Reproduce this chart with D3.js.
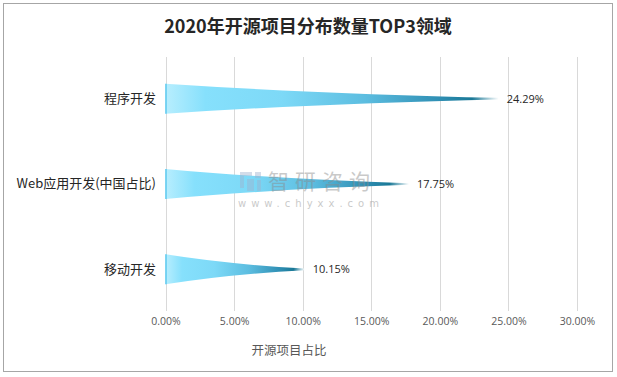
<!DOCTYPE html>
<html><head><meta charset="utf-8">
<script src="https://cdn.jsdelivr.net/npm/d3@7"></script>
<style>body{margin:0;background:#fff;}svg{display:block;font-family:"Noto Sans CJK SC","Noto Sans",sans-serif;}</style>
</head><body>
<svg id="c" width="617" height="377"></svg>
<script>
const categories = ["程序开发", "Web应用开发(中国占比)", "移动开发"];
const values = [24.29, 17.75, 10.15];
const ticks = [0, 5, 10, 15, 20, 25, 30];
const title = "2020年开源项目分布数量TOP3领域";
const axisTitle = "开源项目占比";

const svg = d3.select("#c");
svg.append("rect").attr("x", 3.5).attr("y", 3.5).attr("width", 609).attr("height", 368)
  .attr("fill", "#fff").attr("stroke", "#a6a6a6").attr("stroke-width", 1);

svg.append("text").attr("x", 308).attr("y", 33).attr("text-anchor", "middle")
  .attr("font-size", 18).attr("font-weight", "bold").attr("fill", "#262626").text(title);

const x = d3.scaleLinear().domain([0, 30]).range([165.5, 577]);
const y = d3.scaleBand().domain(categories).range([56, 312]);

// gridlines
svg.append("g").selectAll("line").data(ticks).join("line")
  .attr("x1", d => Math.round(x(d)) + 0.5).attr("x2", d => Math.round(x(d)) + 0.5)
  .attr("y1", 57).attr("y2", 311).attr("stroke", "#d9d9d9").attr("stroke-width", 1);

// x axis labels
const xAxis = d3.axisBottom(x).tickValues(ticks).tickSize(0).tickPadding(0)
  .tickFormat(d => d.toFixed(2) + "%");
const gx = svg.append("g").attr("transform", "translate(0,318)").call(xAxis);
gx.select(".domain").remove();
gx.selectAll("text").attr("font-size", 10.5).attr("fill", "#595959")
  .attr("font-family", "'Open Sans','Noto Sans',sans-serif");

svg.append("text").attr("x", 289).attr("y", 355).attr("text-anchor", "middle")
  .attr("font-size", 12.5).attr("fill", "#595959").text(axisTitle);

// y axis labels
const yAxis = d3.axisLeft(y).tickSize(0).tickPadding(0);
const gy = svg.append("g").attr("transform", "translate(156,0)").call(yAxis);
gy.select(".domain").remove();
gy.selectAll("text").attr("font-size", 13).attr("fill", "#262626")
  .attr("font-family", "'Noto Sans CJK SC','Noto Sans',sans-serif");

// gradient
const defs = svg.append("defs");
const grad = defs.append("linearGradient").attr("id", "g1").attr("x1", 0).attr("x2", 1).attr("y1", 0).attr("y2", 0);
[[0, "#b8eefe"], [0.12, "#86e0fc"], [0.35, "#7dd9f7"], [0.6, "#5cbde0"], [0.82, "#2f8fb4"], [0.92, "#1a7896"], [1, "#ffffff"]]
  .forEach(([o, c]) => grad.append("stop").attr("offset", o).attr("stop-color", c));

const data = categories.map((c, i) => ({ c, v: values[i] }));
const hh = 15;
svg.append("g").selectAll("path").data(data).join("path")
  .attr("d", d => {
    const cy = y(d.c) + y.bandwidth() / 2;
    const x0 = x(0), x1 = x(d.v);
    const mx = x0 + (x1 - x0) * 0.45;
    return `M${x0},${cy - hh} Q${mx},${cy - 5} ${x1},${cy - 0.8} L${x1},${cy + 0.8} Q${mx},${cy + 5} ${x0},${cy + hh} Z`;
  })
  .attr("fill", "url(#g1)");
svg.append("g").selectAll("line").data(data).join("line")
  .attr("x1", x(0) + 0.5).attr("x2", x(0) + 0.5)
  .attr("y1", d => y(d.c) + y.bandwidth() / 2 - hh).attr("y2", d => y(d.c) + y.bandwidth() / 2 + hh)
  .attr("stroke", "#5ec9ee").attr("stroke-width", 1.5);

// value labels
svg.append("g").selectAll("text").data(data).join("text")
  .attr("x", d => x(d.v) + 8).attr("y", d => y(d.c) + y.bandwidth() / 2 + 4)
  .attr("font-size", 11).attr("fill", "#262626")
  .attr("font-family", "'Open Sans','Noto Sans',sans-serif")
  .text(d => d.v.toFixed(2) + "%");

// watermark
const wm = svg.append("g").attr("opacity", 0.45);
wm.append("path").attr("d", "M240,172 h12 v4 h-8 v12 h-4 Z").attr("fill", "#9fb3cf");
wm.append("rect").attr("x", 247).attr("y", 179).attr("width", 7).attr("height", 12).attr("fill", "#9fb3cf");
wm.append("rect").attr("x", 255).attr("y", 172).attr("width", 6).attr("height", 6).attr("fill", "#9fb3cf");
wm.append("rect").attr("x", 257).attr("y", 180).attr("width", 4).attr("height", 11).attr("fill", "#9fb3cf");
wm.append("text").attr("x", 268).attr("y", 189).attr("font-size", 21).attr("fill", "#8a8a8a")
  .attr("letter-spacing", 6).text("智研咨询");
wm.append("text").attr("x", 238).attr("y", 207).attr("font-size", 10).attr("fill", "#8a8a8a")
  .attr("letter-spacing", 5).attr("font-family", "'DejaVu Sans',sans-serif").text("www.chyxx.com");
</script>
</body></html>
